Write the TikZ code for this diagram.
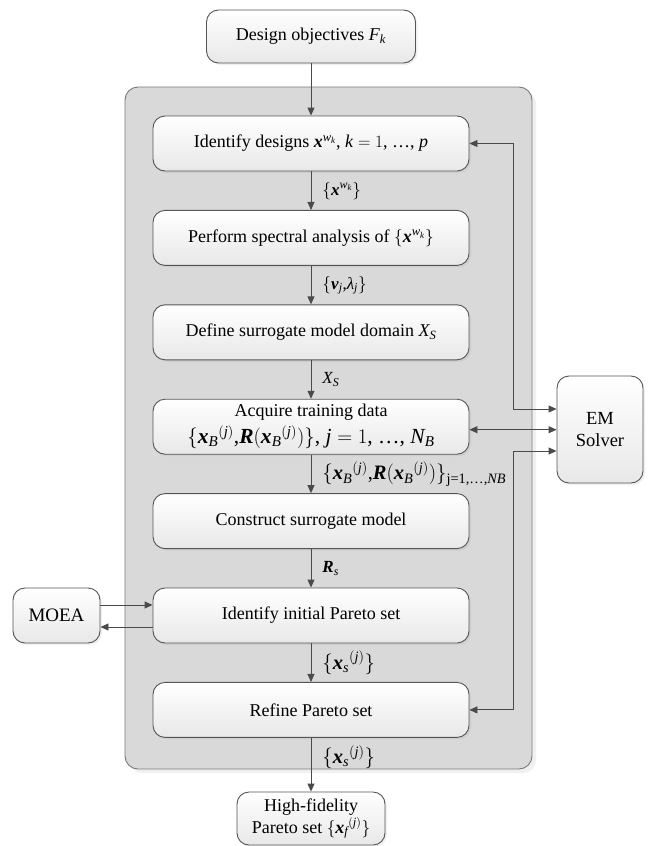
\documentclass[tikz,border=0pt]{standalone}
\usepackage{amsmath}
\usepackage{fontspec}
\setmainfont{Liberation Serif}
\usetikzlibrary{arrows.meta,shadows,calc}

% italic and bold-italic symbols set in the text font
\newcommand{\vi}[1]{\textit{#1}}
\newcommand{\vb}[1]{\textbf{\textit{#1}}}

\definecolor{linec}{HTML}{4A4A4A}
\definecolor{boxline}{HTML}{555555}
\definecolor{panelfill}{HTML}{D9D9D9}
\definecolor{panelline}{HTML}{7A7A7A}
\definecolor{boxbot}{HTML}{E8E8E8}

\tikzset{
  x=1pt, y=-1pt,
  basebox/.style={draw=boxline, line width=0.9pt, rounded corners=12pt,
    top color=white, bottom color=boxbot, align=center,
    font=\fontsize{18}{21}\selectfont,
    drop shadow={opacity=0.12, shadow xshift=2pt, shadow yshift=-2pt}},
  stepbox/.style={basebox, minimum width=316pt, minimum height=55pt},
  panel/.style={draw=panelline, line width=0.9pt, fill=panelfill, rounded corners=13pt,
    drop shadow={opacity=0.12, shadow xshift=4pt, shadow yshift=-4pt}},
  tip/.style={-{Triangle[length=8pt,width=7pt]}},
  arr/.style={draw=linec, line width=0.9pt, tip},
  arrboth/.style={draw=linec, line width=0.9pt,
    {Triangle[length=8pt,width=7pt]}-{Triangle[length=8pt,width=7pt]}},
  lbl/.style={anchor=west, inner sep=0pt, xshift=11pt, font=\fontsize{17}{19}\selectfont},
  biglbl/.style={lbl, font=\fontsize{20.5}{22}\selectfont},
}

\begin{document}
\begin{tikzpicture}
\useasboundingbox (0,0) rectangle (649,846);

% grey frame holding the main loop
\node[panel, minimum width=407pt, minimum height=682pt] (frame) at (328.5,428) {};

% objectives and final result
\node[basebox, minimum width=209pt, minimum height=53pt] (obj) at (311,36.5)
  {Design objectives $\vi{F}_{\vi{k}}$};
\node[basebox, minimum width=148pt, minimum height=53pt, inner sep=1pt,
  font=\fontsize{18}{22}\selectfont] (hf) at (311,818.5)
  {High-fidelity\\ Pareto set $\{{\vb{x}_{\vi{f}}}^{(\vi{j})}\}$};

% main sequence of steps
\node[stepbox] (b1) at (311,143.5) {Identify designs $\vb{x}^{\vi{w}_{\vi{k}}}$, $\vi{k} = 1$, \ldots, $\vi{p}$};
\node[stepbox] (b2) at (311,237.9) {Perform spectral analysis of $\{\vb{x}^{\vi{w}_{\vi{k}}}\}$};
\node[stepbox] (b3) at (311,332.3) {Define surrogate model domain $\vi{X}_{\vi{S}}$};
\node[stepbox, inner sep=1pt, font=\fontsize{18}{27}\selectfont] (b4) at (311,426.7) {Acquire training data\\
  {\fontsize{21.5}{24}\selectfont $\{{\vb{x}_{\vi{B}}}^{(\vi{j})}$,$\vb{R}({\vb{x}_{\vi{B}}}^{(\vi{j})})\}$, $\vi{j} = 1$, \ldots, $\vi{N}_{\vi{B}}$}};
\node[stepbox] (b5) at (311,521.1) {Construct surrogate model};
\node[stepbox] (b6) at (311,615.5) {Identify initial Pareto set};
\node[stepbox] (b7) at (311,709.9) {Refine Pareto set};

% external tools
\node[basebox, minimum width=87pt, minimum height=55pt, font=\fontsize{19}{21}\selectfont] (moea) at (56.5,615.5) {MOEA};
\node[basebox, minimum width=86pt, minimum height=107pt, font=\fontsize{18.5}{22}\selectfont] (em) at (600,429.5) {EM\\Solver};

% vertical flow
\draw[arr] (obj.south) -- (b1.north);
\draw[arr] (b1.south) -- (b2.north) node[lbl, midway] {$\{\vb{x}^{\vi{w}_{\vi{k}}}\}$};
\draw[arr] (b2.south) -- (b3.north) node[lbl, midway] {$\{\vb{v}_{\vi{j}}$,$\vi{λ}_{\vi{j}}\}$};
\draw[arr] (b3.south) -- (b4.north) node[lbl, midway] {$\vi{X}_{\vi{S}}$};
\draw[arr] (b4.south) -- (b5.north) node[biglbl, midway]
  {$\{{\vb{x}_{\vi{B}}}^{(\vi{j})}$,$\vb{R}({\vb{x}_{\vi{B}}}^{(\vi{j})})\}_{\text{j=1,\ldots,}\vi{NB}}$};
\draw[arr] (b5.south) -- (b6.north) node[lbl, midway] {$\vb{R}_{\vi{s}}$};
\draw[arr] (b6.south) -- (b7.north) node[biglbl, midway] {$\{{\vb{x}_{\vi{s}}}^{(\vi{j})}\}$};
\draw[arr] (b7.south) -- (hf.north) node[biglbl, pos=0.36] {$\{{\vb{x}_{\vi{s}}}^{(\vi{j})}\}$};

% links with the EM solver
\coordinate (busA) at (513,409);
\coordinate (busB) at (513,451);
\draw[arrboth] (b1.east) -| (busA) -- (busA -| em.west);
\draw[arrboth] (b7.east) -| (busB) -- (busB -| em.west);
\draw[arrboth] ([yshift=-3pt]b4.east) -- ([yshift=-3pt]b4.east -| em.west);

% links with the MOEA
\draw[arr] ([yshift=10.5pt]moea.east) -- ([yshift=10.5pt]moea.east -| b6.west);
\draw[arr] ([yshift=-11.5pt]b6.west) -- ([yshift=-11.5pt]b6.west -| moea.east);
\end{tikzpicture}
\end{document}
